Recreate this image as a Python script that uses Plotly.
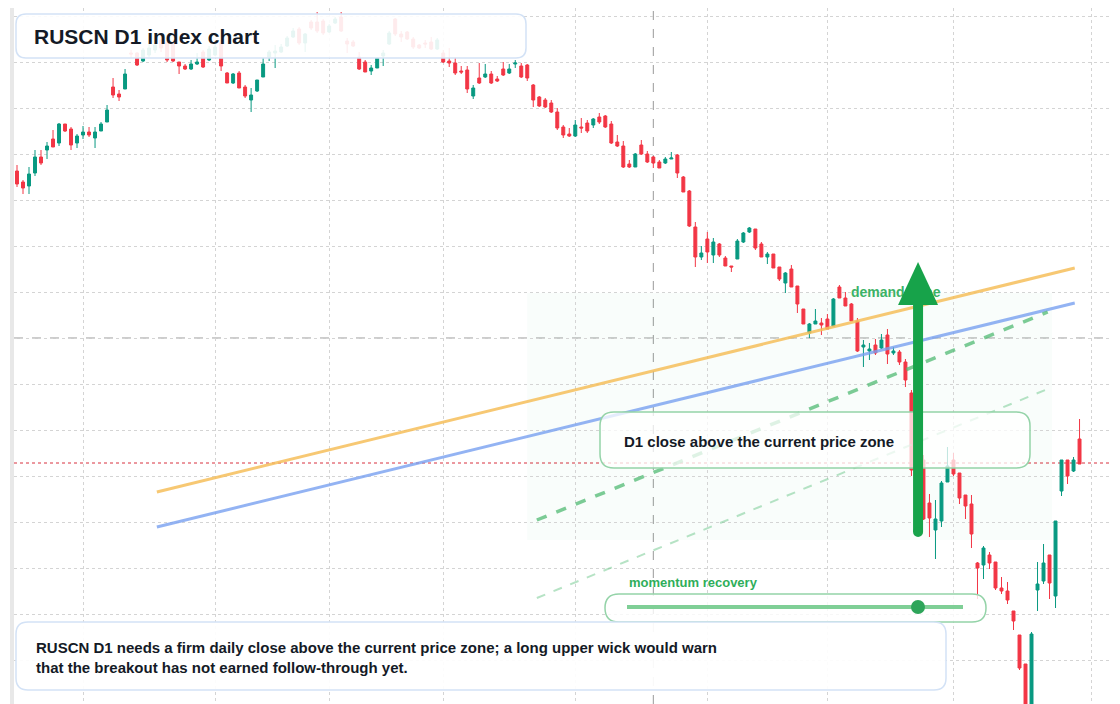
import plotly.graph_objects as go

# ---- data ----
open_ = [829,818,814,827,843,850,861,857,876,871,857,865,868,862,869,878,913,906,911,947,
         947,939,945,950,960,958,957,938,934,931,936,948,940,945,957,927,917,927,913,900,
         909,923,943,947,948,954,963,971,957,978,978,979,968,977,983,959,958,943,938,929,
         932,944,956,981,966,968,961,955,957,958,951,947,939,937,929,930,904,922,923,926,
         921,931,927,936,934,935,915,903,900,897,888,873,866,864,873,877,875,883,884,876,
         858,854,836,833,855,846,843,838,837,841,845,823,809,773,743,761,745,756,742,734,
         741,758,768,771,756,743,746,733,717,731,714,691,667,676,677,681,674,713,702,696,
         679,653,649,655,652,665,647,648,638,607,530,540,497,470,479,518,540,527,505,496,
         437,435,445,438,412,409,389,365,336,260,410,419,445,404,509,540,529,561]
high = [835,820,833,850,850,858,870,877,876,873,866,874,873,873,878,895,922,910,931,950,
        948,952,956,960,964,965,960,938,936,940,947,950,954,956,960,928,927,929,915,912,
        920,942,950,955,956,964,972,973,967,980,988,981,976,983,988,962,960,948,940,935,
        943,950,969,982,969,969,963,956,960,963,962,950,952,942,934,934,915,937,936,929,
        924,938,936,940,937,936,916,904,902,900,892,875,872,880,882,880,882,887,885,879,
        865,859,840,847,860,849,844,840,843,848,846,824,810,778,754,768,762,757,744,734,
        761,768,773,771,758,748,746,733,728,735,714,691,677,691,682,686,702,715,708,697,
        682,660,657,661,666,671,653,650,641,610,535,545,506,500,519,553,547,527,505,505,
        438,454,448,438,423,418,389,365,336,368,438,456,445,479,540,540,543,581]
low = [813,806,806,824,835,841,853,854,868,850,852,861,863,852,869,878,902,899,911,942,
       934,938,943,947,948,938,938,926,930,930,935,932,939,944,929,917,916,912,902,888,
       908,923,939,932,947,953,962,955,948,970,967,965,967,976,968,947,953,930,928,925,
       932,934,955,964,958,960,951,951,952,950,950,937,933,925,926,907,901,916,922,916,
       918,924,926,932,922,919,893,893,892,887,870,862,863,863,867,867,872,876,872,856,
       853,832,832,833,845,837,832,832,836,841,822,808,773,733,740,737,737,743,734,728,
       741,757,767,750,743,736,732,719,707,713,687,676,662,676,665,671,674,702,694,679,
       648,633,640,645,651,636,645,635,613,524,495,480,463,441,473,518,524,496,481,452,
       401,421,431,410,406,396,370,330,255,255,389,416,401,392,504,516,528,536]
close = [816,812,826,843,837,854,853,876,869,855,864,868,865,868,876,890,905,903,926,946,
         935,950,952,955,952,940,939,934,931,936,938,933,951,953,934,917,926,912,904,905,
         920,936,948,949,953,962,969,957,966,972,969,967,974,981,969,956,954,931,928,932,
         942,947,967,966,963,961,953,952,956,951,960,938,937,927,928,911,912,917,926,917,
         919,925,931,937,923,922,900,894,893,888,872,865,864,875,872,869,881,878,873,857,
         854,833,833,846,846,838,837,832,841,842,827,808,774,743,747,748,758,745,734,733,
         759,767,772,752,743,746,732,721,727,713,696,676,676,679,675,671,701,702,694,679,
         649,655,651,647,660,646,649,638,620,530,500,481,482,481,517,534,526,502,494,466,
         432,452,437,412,409,400,379,332,260,366,416,437,417,479,540,524,540,536]
bars = list(range(len(open_)))

grid_x = [11, 33, 52, 71, 93, 115, 135, 156, 179]
grid_y = [984 - 46 * k for k in range(16)]
cross_x, cross_y = 106, 662
last_price = 537

orange_line = ([23.3, 176.2], [508, 732])
blue_line = ([23.3, 176.2], [473, 697])
green_dash = ([86.6, 171.7], [480, 688])
green_light = ([86.6, 172.1], [402, 612])
zone_x, zone_y = [85.0, 172.4], [460, 707]
arrow_x, arrow_y = 150.1, [468, 738]

title = "RUSCN D1 index chart"
zone_label = "demand zone"
box_text = "D1 close above the current price zone"
slider_label = "momentum recovery"
note = ("RUSCN D1 needs a firm daily close above the current price zone; a long upper wick would warn"
        "<br>that the breakout has not earned follow-through yet.")

# page offset of 8px (body margin) compensated
OFF = 8
W, H = 1120 - OFF, 704 - OFF
L = 14 - OFF
X0, X1 = -0.5, 183.74
Y0, Y1 = 296, 1000 - OFF
FONT = "Liberation Sans, Arial, sans-serif"


def px(x):
    return (x - 14) / (1120 - 14)


def py(y):
    return 1 - (y - OFF) / H


def rrect(x0, y0, x1, y1, r):
    pts = [
        f"M {px(x0 + r)} {py(y0)}", f"L {px(x1 - r)} {py(y0)}",
        f"Q {px(x1)} {py(y0)} {px(x1)} {py(y0 + r)}", f"L {px(x1)} {py(y1 - r)}",
        f"Q {px(x1)} {py(y1)} {px(x1 - r)} {py(y1)}", f"L {px(x0 + r)} {py(y1)}",
        f"Q {px(x0)} {py(y1)} {px(x0)} {py(y1 - r)}", f"L {px(x0)} {py(y0 + r)}",
        f"Q {px(x0)} {py(y0)} {px(x0 + r)} {py(y0)}", "Z"]
    return " ".join(pts)


fig = go.Figure()
fig.add_trace(go.Candlestick(
    x=bars, open=open_, high=high, low=low, close=close,
    increasing=dict(line=dict(color="#089981", width=1), fillcolor="#089981"),
    decreasing=dict(line=dict(color="#f23645", width=1), fillcolor="#f23645"),
    whiskerwidth=0, hoverinfo="skip", showlegend=False))

fig.add_trace(go.Scatter(
    x=[(851 - 17) / 6.003], y=[1000 - 293], mode="text", text=[zone_label],
    textposition="middle right", showlegend=False, hoverinfo="skip",
    textfont=dict(family=FONT, size=14, color="#3cb266", weight="bold")))

shapes = []
shapes.append(dict(type="rect", xref="paper", yref="paper", x0=px(10), x1=px(14), y0=0, y1=1,
                   fillcolor="#e8e8e8", line_width=0, layer="above"))
shapes.append(dict(type="rect", x0=zone_x[0], x1=zone_x[1], y0=zone_y[0], y1=zone_y[1],
                   fillcolor="rgba(34,197,94,0.028)", line_width=0, layer="below"))
shapes.append(dict(type="line", x0=cross_x, x1=cross_x, yref="paper", y0=0, y1=1,
                   line=dict(color="#9a9a9a", width=1, dash="dash"), layer="below"))
shapes.append(dict(type="line", xref="paper", x0=0, x1=1, y0=cross_y, y1=cross_y,
                   line=dict(color="#9a9a9a", width=1, dash="dash"), layer="below"))
shapes.append(dict(type="line", xref="paper", x0=0, x1=1, y0=last_price, y1=last_price,
                   line=dict(color="#d8303f", width=1, dash="dot"), layer="below"))
for (xs, ys), col, wdt, dash in [
        (orange_line, "rgba(246,190,90,0.85)", 3, "solid"),
        (blue_line, "rgba(120,160,240,0.8)", 3, "solid"),
        (green_dash, "rgba(80,185,115,0.75)", 3.5, "dash"),
        (green_light, "rgba(110,200,140,0.5)", 2, "dash")]:
    shapes.append(dict(type="line", x0=xs[0], x1=xs[1], y0=ys[0], y1=ys[1],
                       line=dict(color=col, width=wdt, dash=dash), layer="above"))
shapes.append(dict(type="path", xref="paper", yref="paper", path=rrect(16, 14, 526, 58, 10),
                   fillcolor="rgba(255,255,255,0.9)", line=dict(color="#d3e2f6", width=1.5), layer="above"))
shapes.append(dict(type="path", xref="paper", yref="paper", path=rrect(600, 412, 1030, 468, 14),
                   fillcolor="rgba(255,255,255,0.75)", line=dict(color="#94d3a8", width=1.5), layer="above"))
shapes.append(dict(type="path", xref="paper", yref="paper", path=rrect(605, 594, 986, 622, 14),
                   fillcolor="rgba(255,255,255,0.8)", line=dict(color="#94d3a8", width=1.5), layer="above"))
shapes.append(dict(type="line", xref="paper", yref="paper", x0=px(627), x1=px(963), y0=py(607), y1=py(607),
                   line=dict(color="#7fcf96", width=4), layer="above"))
shapes.append(dict(type="circle", xref="paper", yref="paper", x0=px(911), x1=px(925), y0=py(614), y1=py(600),
                   fillcolor="#2ea55a", line_width=0, layer="above"))
shapes.append(dict(type="path", xref="paper", yref="paper", path=rrect(16, 622, 946, 690, 12),
                   fillcolor="rgba(255,255,255,0.92)", line=dict(color="#d3e2f6", width=1.5), layer="above"))
# arrow
sw = 5 / 6.003
shapes.append(dict(type="rect", x0=arrow_x - sw, x1=arrow_x + sw,
                   y0=arrow_y[0], y1=1000 - 302, fillcolor="#17a34a", line_width=0, layer="above"))
shapes.append(dict(type="circle", x0=arrow_x - sw, x1=arrow_x + sw,
                   y0=arrow_y[0] - 5, y1=arrow_y[0] + 5, fillcolor="#17a34a", line_width=0, layer="above"))
shapes.append(dict(type="path",
                   path=f"M {arrow_x - 20 / 6.003} {1000 - 305} L {arrow_x + 20 / 6.003} {1000 - 305} "
                        f"L {arrow_x} {arrow_y[1]} Z",
                   fillcolor="#17a34a", line_width=0, layer="above"))

annotations = [
    dict(xref="paper", yref="paper", x=px(32), y=py(36), text=f"<b>{title}</b>", showarrow=False,
         xanchor="left", yanchor="middle", font=dict(family=FONT, size=21, color="#141a26")),
    dict(xref="paper", yref="paper", x=px(622), y=py(441), text=f"<b>{box_text}</b>", showarrow=False,
         xanchor="left", yanchor="middle", font=dict(family=FONT, size=15, color="#141a26")),
    dict(xref="paper", yref="paper", x=px(627), y=py(582), text=f"<b>{slider_label}</b>", showarrow=False,
         xanchor="left", yanchor="middle", font=dict(family=FONT, size=13, color="#2fae5a")),
    dict(xref="paper", yref="paper", x=px(34), y=py(657), text=f"<b>{note}</b>", showarrow=False,
         xanchor="left", yanchor="middle", align="left",
         font=dict(family=FONT, size=15, color="#141a26")),
]

fig.update_layout(
    width=W, height=H, margin=dict(l=L, r=0, t=0, b=0),
    paper_bgcolor="white", plot_bgcolor="white",
    shapes=shapes, annotations=annotations, showlegend=False,
    xaxis=dict(range=[X0, X1], rangeslider=dict(visible=False), showticklabels=False,
               tickvals=grid_x, showgrid=True, gridcolor="#d4d4d4", griddash="dot",
               zeroline=False, showline=False, ticks=""),
    yaxis=dict(range=[Y0, Y1], showticklabels=False, tickvals=grid_y, showgrid=True,
               gridcolor="#d4d4d4", griddash="dot", zeroline=False, showline=False, ticks=""),
)

fig.write_html("out.html")
